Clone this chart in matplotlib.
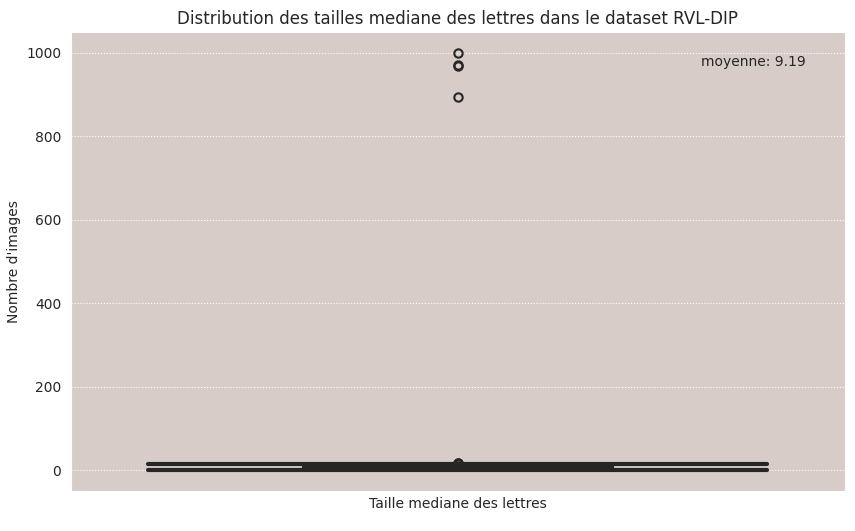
import matplotlib
matplotlib.use("Agg")
import matplotlib.pyplot as plt
import seaborn as sns

sns.set_style("darkgrid", {"axes.facecolor": "#d7ccc8", "grid.linestyle": ":"})

med = 6
q1 = 2
q3 = 10
whislo = 0
whishi = 14
fliers = [15, 16, 17, 18, 893, 969, 970, 1000]
mean_val = 9.19

fig, ax = plt.subplots(figsize=(8.55, 5.31), dpi=100)
stats = [dict(med=med, q1=q1, q3=q3, whislo=whislo, whishi=whishi, fliers=fliers)]
ax.bxp(stats, positions=[0], widths=0.4, capwidths=0.8, patch_artist=True,
       boxprops=dict(facecolor="#d7ccc8", edgecolor="#262626", linewidth=1.5),
       medianprops=dict(color="#262626", linewidth=1.5),
       whiskerprops=dict(color="#262626", linewidth=1.5),
       capprops=dict(color="#262626", linewidth=3),
       flierprops=dict(marker="o", markerfacecolor="none", markeredgecolor="#262626",
                       markersize=6, markeredgewidth=1.5))
ax.set_xlim(-0.5, 0.5)
ax.set_ylim(-50, 1050)
ax.set_xticks([])
ax.set_xlabel("Taille mediane des lettres")
ax.set_ylabel("Nombre d'images")
ax.set_title("Distribution des tailles mediane des lettres dans le dataset RVL-DIP")
ax.text(0.95, 0.95, f"moyenne: {mean_val}", transform=ax.transAxes, ha="right", va="top")
fig.subplots_adjust(left=0.083, right=0.988, top=0.94, bottom=0.075)
fig.savefig("out.png")
